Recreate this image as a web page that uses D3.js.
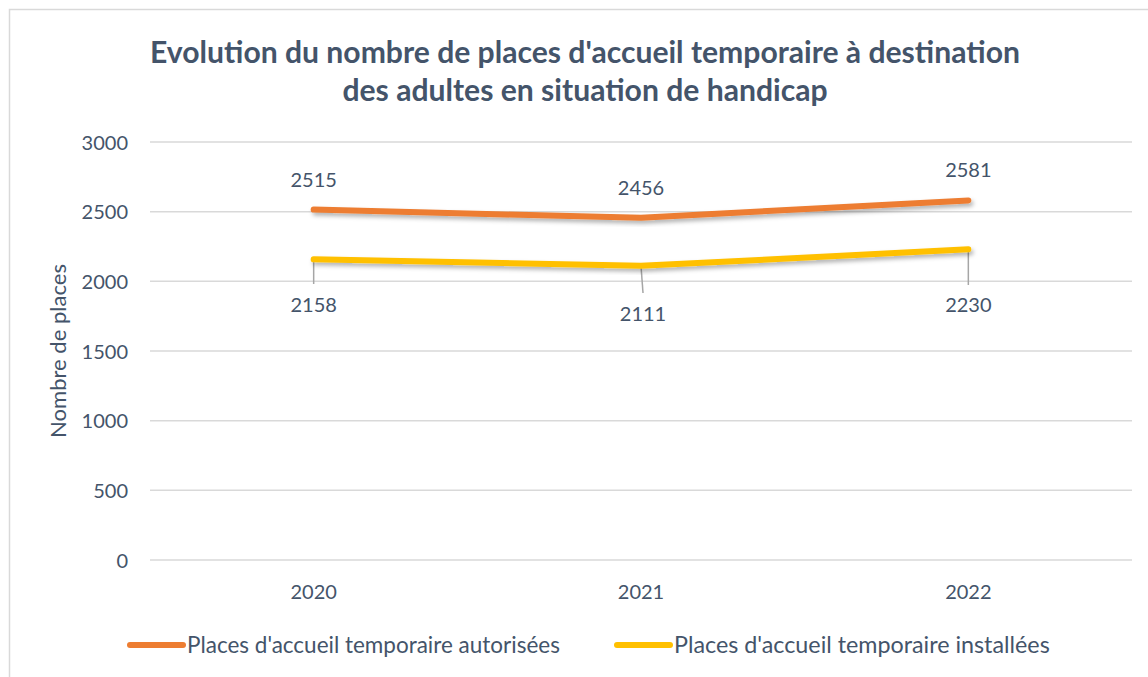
<!DOCTYPE html>
<html><head><meta charset="utf-8">
<script src="https://cdn.jsdelivr.net/npm/d3@7/dist/d3.min.js"></script>
<style>body{margin:0;background:#fff}svg{display:block}</style>
</head><body>
<script>
const years = ["2020", "2021", "2022"];
const autorisees = [2515, 2456, 2581];
const installees = [2158, 2111, 2230];
const yTicks = [0, 500, 1000, 1500, 2000, 2500, 3000];
const seriesNames = ["Places d'accueil temporaire autorisées", "Places d'accueil temporaire installées"];
const titleLines = ["Evolution du nombre de places d'accueil temporaire à destination", "des adultes en situation de handicap"];
const yTitle = "Nombre de places";

const W = 1148, H = 677;
const FONT = "Lato, 'Open Sans', sans-serif";
const TXT = "#44546A";
const svg = d3.select("body").append("svg").attr("width", W).attr("height", H);

const defs = svg.append("defs");
const f = defs.append("filter").attr("id","sh").attr("x","-10%").attr("y","-50%").attr("width","120%").attr("height","200%");
f.append("feDropShadow").attr("dx",2).attr("dy",3).attr("stdDeviation",2).attr("flood-color","#000").attr("flood-opacity",0.3);

svg.append("rect").attr("x",9.5).attr("y",9.5).attr("width",1300).attr("height",900)
  .attr("fill","#fff").attr("stroke","#D9D9D9").attr("stroke-width",1.5);

function fit(sel, target){
  const w = sel.node().getComputedTextLength();
  const fs = parseFloat(sel.attr("font-size"));
  sel.attr("font-size", fs*target/w);
  return fs*target/w;
}

// Title
const t1 = svg.append("text").attr("x",585).attr("y",63).attr("text-anchor","middle")
  .attr("font-family",FONT).attr("font-weight","bold").attr("font-size",26).attr("fill",TXT).text(titleLines[0]);
const tfs = fit(t1, 870);
svg.append("text").attr("x",585).attr("y",101).attr("text-anchor","middle")
  .attr("font-family",FONT).attr("font-weight","bold").attr("font-size",tfs).attr("fill",TXT).text(titleLines[1]);

const x = d3.scaleBand().domain(years).range([150,1132]);
const y = d3.scaleLinear().domain([0,3000]).range([560,142]);

// grid
svg.append("g").selectAll("line").data(yTicks).join("line")
  .attr("x1",150).attr("x2",1132).attr("y1",d=>y(d)).attr("y2",d=>y(d))
  .attr("stroke","#D9D9D9").attr("stroke-width",1.5);

const tickFs = 20;

const yAxis = d3.axisLeft(y).tickValues(yTicks).tickFormat(d3.format("d")).tickSize(0).tickPadding(0);
const gy = svg.append("g").attr("transform","translate(128,0)").call(yAxis);
gy.select(".domain").remove();
gy.selectAll("text").attr("font-family",FONT).attr("font-size",tickFs).attr("fill",TXT).attr("dy","0.35em");

const xAxis = d3.axisBottom(x).tickSize(0).tickPadding(0);
const gx = svg.append("g").attr("transform","translate(0,592)").call(xAxis);
gx.select(".domain").remove();
gx.selectAll("text").attr("font-family",FONT).attr("font-size",tickFs).attr("fill",TXT).attr("dy","0.35em");

const yt = svg.append("text").attr("transform","translate(66,351) rotate(-90)").attr("text-anchor","middle")
  .attr("font-family",FONT).attr("font-size",18).attr("fill",TXT).text(yTitle);
fit(yt, 174);

const cx = d => x(d) + x.bandwidth()/2;
const line = d3.line().x(d=>cx(d[0])).y(d=>y(d[1]));
const colors = ["#ED7D31","#FFC000"];
const series = [autorisees, installees];

// leader lines for lower labels
const leaderEnd = [284, 293, 285];
svg.append("g").selectAll("line").data(installees).join("line")
  .attr("x1",(d,i)=>cx(years[i])).attr("x2",(d,i)=>cx(years[i]) + (i===1?2:0))
  .attr("y1",d=>y(d)).attr("y2",(d,i)=>leaderEnd[i])
  .attr("stroke","#A6A6A6").attr("stroke-width",1.5);

series.forEach((s,k)=>{
  svg.append("path").datum(s.map((v,i)=>[years[i],v]))
    .attr("d",line).attr("fill","none").attr("stroke",colors[k]).attr("stroke-width",6)
    .attr("stroke-linecap","round").attr("stroke-linejoin","round").attr("filter","url(#sh)");
});

// labels
const aboveDy = -30;
svg.append("g").selectAll("text").data(autorisees).join("text")
  .attr("x",(d,i)=>cx(years[i])).attr("y",d=>y(d)+aboveDy).attr("dy","0.35em").attr("text-anchor","middle")
  .attr("font-family",FONT).attr("font-size",tickFs).attr("fill",TXT).text(d=>d);
const belowY = [305, 314, 305];
svg.append("g").selectAll("text").data(installees).join("text")
  .attr("x",(d,i)=>cx(years[i]) + (i===1?2:0)).attr("y",(d,i)=>belowY[i]).attr("dy","0.35em").attr("text-anchor","middle")
  .attr("font-family",FONT).attr("font-size",tickFs).attr("fill",TXT).text(d=>d);

// legend
const legX = [130, 617];
const lg = svg.append("g");
seriesNames.forEach((n,k)=>{
  lg.append("line").attr("x1",legX[k]).attr("x2",legX[k]+53).attr("y1",645).attr("y2",645)
    .attr("stroke",colors[k]).attr("stroke-width",6).attr("stroke-linecap","round");
  const t = lg.append("text").attr("x",legX[k]+57).attr("y",645).attr("dy","0.35em")
    .attr("font-family",FONT).attr("font-size",20).attr("fill",TXT).text(n);
  if(k===0) fit(t, 373); else fit(t, 376);
});
</script>
</body></html>
